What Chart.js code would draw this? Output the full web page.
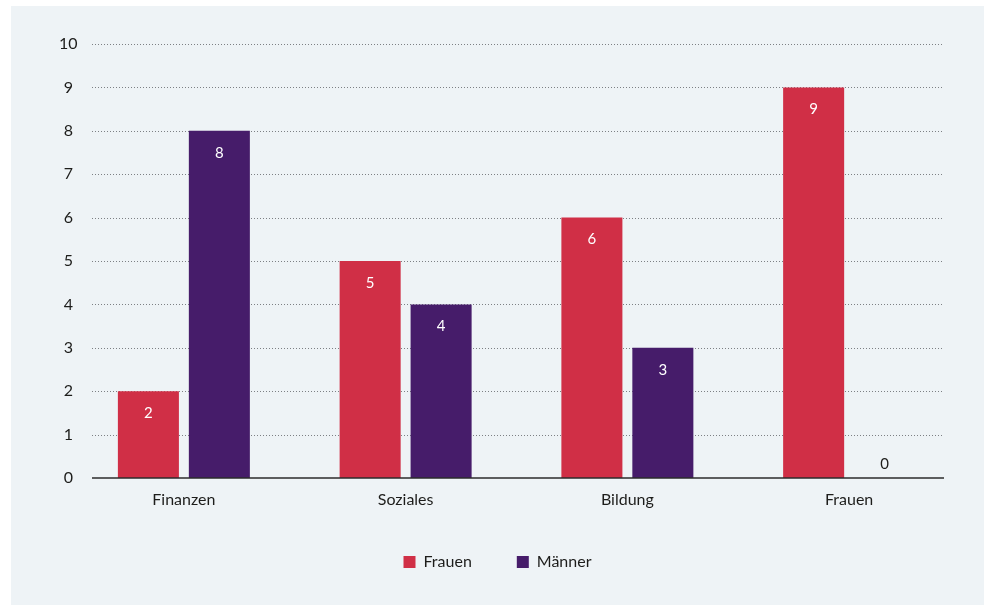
<!DOCTYPE html>
<html>
<head>
<meta charset="utf-8">
<script src="https://cdn.jsdelivr.net/npm/chart.js@4.4.1/dist/chart.umd.min.js"></script>
<style>
  html, body { margin: 0; padding: 0; background: #ffffff; }
  #panel { position: absolute; left: 11px; top: 6px; width: 973px; height: 599px; background: #eef3f6; }
</style>
</head>
<body>
<div id="panel"><canvas id="chart" width="973" height="599"></canvas></div>
<script>
const categories = ["Finanzen", "Soziales", "Bildung", "Frauen"];
const frauen = [2, 5, 6, 9];
const maenner = [8, 4, 3, 0];
const yMin = 0;
const yMax = 10;

const textColor = "#1d1d1b";
Chart.defaults.font.family = "Lato, 'Noto Sans', sans-serif";
Chart.defaults.font.size = 16;
Chart.defaults.color = textColor;

// dotted grid lines behind the bars, solid base line on top
const gridLines = {
  id: "gridLines",
  beforeDatasetsDraw(chart) {
    const { ctx, chartArea, scales } = chart;
    const x0 = chartArea.left + 19;
    const x1 = chartArea.right - 16;
    ctx.save();
    ctx.strokeStyle = "#7d8084";
    ctx.lineWidth = 1;
    ctx.setLineDash([1, 2]);
    scales.y.ticks.forEach((t) => {
      if (t.value === yMin) return;
      const y = Math.round(scales.y.getPixelForValue(t.value)) + 0.5;
      ctx.beginPath();
      ctx.moveTo(x0, y);
      ctx.lineTo(x1, y);
      ctx.stroke();
    });
    ctx.restore();
  },
  afterDatasetsDraw(chart) {
    const { ctx, chartArea, scales } = chart;
    const y = scales.y.getPixelForValue(yMin);
    ctx.save();
    ctx.strokeStyle = "#2b2b2b";
    ctx.lineWidth = 1.5;
    ctx.beginPath();
    ctx.moveTo(chartArea.left + 19, y);
    ctx.lineTo(chartArea.right - 16, y);
    ctx.stroke();
    ctx.restore();
  },
};

// value labels inside the bars
const valueLabels = {
  id: "valueLabels",
  afterDatasetsDraw(chart) {
    const { ctx } = chart;
    ctx.save();
    ctx.font = "15px Lato, 'Noto Sans', sans-serif";
    ctx.textAlign = "center";
    ctx.textBaseline = "middle";
    chart.data.datasets.forEach((ds, i) => {
      chart.getDatasetMeta(i).data.forEach((bar, j) => {
        const v = ds.data[j];
        if (v > 0) {
          ctx.fillStyle = "#ffffff";
          ctx.fillText(String(v), bar.x, bar.y + 22);
        } else {
          ctx.fillStyle = textColor;
          ctx.fillText(String(v), bar.x, bar.y - 14);
        }
      });
    });
    ctx.restore();
  },
};

new Chart(document.getElementById("chart").getContext("2d"), {
  type: "bar",
  data: {
    labels: categories,
    datasets: [
      {
        label: "Frauen",
        data: frauen,
        backgroundColor: "#d02f46",
        categoryPercentage: 0.64,
        barPercentage: 0.86,
      },
      {
        label: "Männer",
        data: maenner,
        backgroundColor: "#461c6a",
        categoryPercentage: 0.64,
        barPercentage: 0.86,
      },
    ],
  },
  options: {
    responsive: false,
    animation: false,
    layout: { padding: { top: 38, left: 24, right: 24, bottom: 25 } },
    plugins: {
      legend: {
        position: "bottom",
        labels: {
          boxWidth: 12,
          boxHeight: 12,
          padding: 45,
          font: { size: 16 },
        },
      },
      tooltip: { enabled: false },
    },
    scales: {
      x: {
        grid: { display: false, drawTicks: false },
        border: { display: false },
        ticks: { padding: 12 },
        afterFit(scale) { scale.height = 31; },
      },
      y: {
        min: yMin,
        max: yMax,
        grid: { display: false, drawTicks: false },
        border: { display: false },
        ticks: { stepSize: 1, mirror: true, padding: -14, crossAlign: "center" },
        afterFit(scale) { scale.width = 38; },
      },
    },
  },
  plugins: [gridLines, valueLabels],
});
</script>
</body>
</html>
